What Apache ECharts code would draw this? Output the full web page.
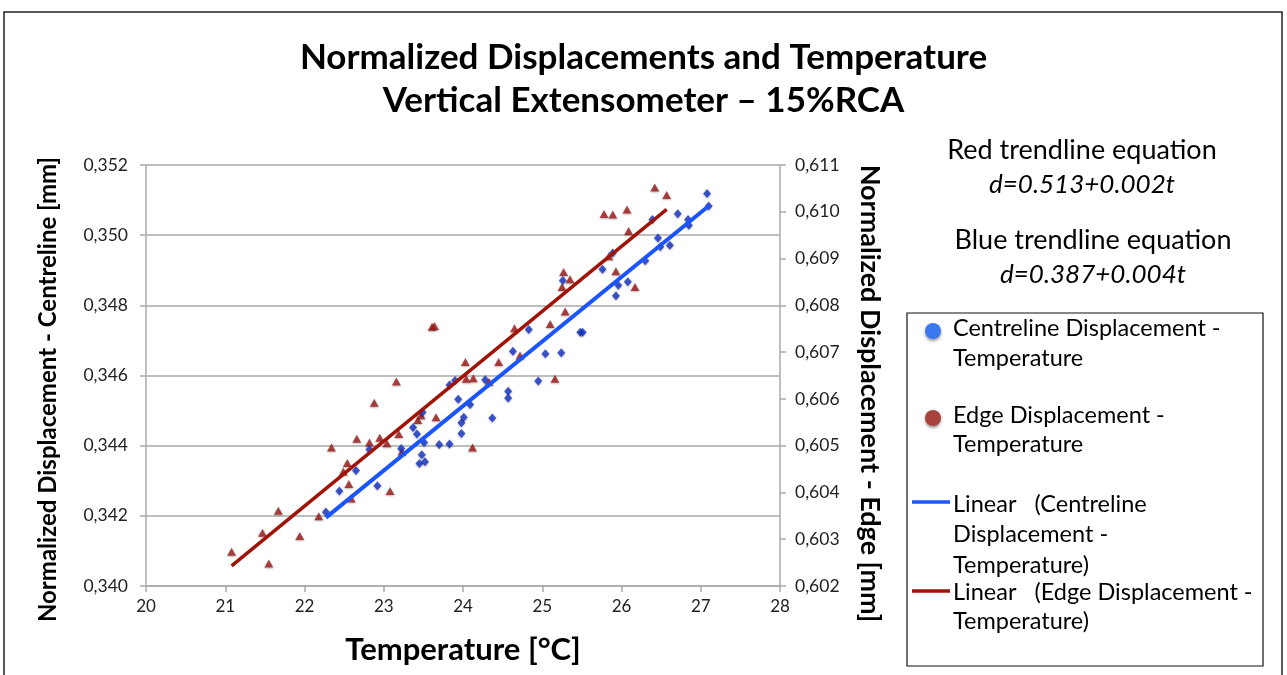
<!DOCTYPE html>
<html>
<head>
<meta charset="utf-8">
<script src="https://cdn.jsdelivr.net/npm/echarts@6/dist/echarts.min.js"></script>
<style>
html,body{margin:0;padding:0;background:#fff;}
#c{width:1287px;height:675px;}
</style>
</head>
<body>
<div id="c"></div>
<script>
// Centreline (blue) points: temperature [°C] and displacement [mm] (left axis)
var blueT = [22.27,22.44,22.65,22.82,22.92,23.22,23.37,23.42,23.45,23.48,23.52,23.51,23.49,23.70,23.83,23.83,23.90,23.94,23.98,23.98,24.01,24.09,24.28,24.37,24.57,24.57,24.63,24.83,24.95,25.04,25.24,25.26,25.48,25.51,25.76,25.89,25.93,25.96,26.08,26.30,26.39,26.46,26.49,26.61,26.71,26.84,26.85,27.08,27.10];
var blueD = [0.34211,0.34271,0.34329,0.34389,0.34286,0.34392,0.34452,0.34433,0.34349,0.34374,0.34354,0.34409,0.34495,0.34403,0.34405,0.34573,0.34586,0.34532,0.34465,0.34435,0.34481,0.34517,0.34588,0.34479,0.34555,0.34536,0.34669,0.34731,0.34584,0.34662,0.34665,0.34871,0.34723,0.34723,0.34903,0.34949,0.34827,0.34857,0.34867,0.34927,0.35045,0.34992,0.34967,0.34971,0.35061,0.35045,0.35028,0.35119,0.35083];
// Edge (red) points: temperature [°C] and displacement [mm] (right axis)
var redT = [21.08,21.47,21.55,21.67,21.94,22.18,22.34,22.49,22.54,22.56,22.59,22.66,22.82,22.88,22.95,23.04,23.08,23.16,23.19,23.23,23.43,23.47,23.61,23.64,23.66,24.03,24.04,24.13,24.12,24.33,24.45,24.65,24.72,25.10,25.16,25.25,25.27,25.29,25.35,25.78,25.89,25.84,25.93,26.07,26.09,26.17,26.42,26.57];
var redD = [0.60273,0.60314,0.60248,0.60361,0.60307,0.60349,0.60496,0.60445,0.60463,0.60418,0.60387,0.60515,0.60507,0.60592,0.60517,0.60505,0.60403,0.60637,0.60525,0.60487,0.60555,0.60565,0.60754,0.60756,0.60561,0.60679,0.60643,0.60644,0.60496,0.60636,0.60679,0.60751,0.60693,0.6076,0.60643,0.60839,0.60871,0.60787,0.60856,0.60995,0.60994,0.60905,0.60873,0.61005,0.60959,0.60839,0.61052,0.61036];
// Trendline end points
var blueLineT = [22.27, 27.10];
var blueLineD = [0.34195, 0.35083];
var redLineT = [21.08, 26.57];
var redLineD = [0.60243, 0.61005];

var titleLines = ['Normalized Displacements and Temperature', 'Vertical Extensometer \u2013 15%RCA'];
var legendNames = ['Centreline Displacement -\nTemperature', 'Edge Displacement -\nTemperature', 'Linear   (Centreline\nDisplacement -\nTemperature)', 'Linear   (Edge Displacement -\nTemperature)'];

function pairs(a, b) { return a.map(function (v, i) { return [v, b[i]]; }); }
var FONT = 'Lato, "Open Sans", sans-serif';
function comma(d) { return function (v) { return v.toFixed(d).replace('.', ','); }; }

var chart = echarts.init(document.getElementById('c'));
chart.setOption({
  animation: false,
  backgroundColor: '#fff',
  title: {
    text: titleLines.join('\n'),
    left: 'center', top: 31,
    textStyle: { fontFamily: FONT, fontSize: 35, fontWeight: 'bold', color: '#000', lineHeight: 43 }
  },
  grid: { left: 146, right: 507, top: 165, bottom: 89 },
  xAxis: {
    type: 'value', min: 20, max: 28, interval: 1,
    name: 'Temperature [\u00b0C]', nameLocation: 'middle', nameGap: 48,
    nameTextStyle: { fontFamily: FONT, fontSize: 31, fontWeight: 'bold', color: '#000' },
    axisLine: { show: true, lineStyle: { color: '#aaa', width: 1.5 } },
    axisTick: { show: true, length: 6, lineStyle: { color: '#aaa', width: 1.5 } },
    axisLabel: { fontFamily: FONT, fontSize: 17, color: '#222', margin: 12 },
    splitLine: { show: false }
  },
  yAxis: [{
    type: 'value', min: 0.340, max: 0.352, interval: 0.002,
    name: 'Normalized Displacement - Centreline [mm]', nameLocation: 'middle', nameGap: 86, nameRotate: 90,
    nameTextStyle: { fontFamily: FONT, fontSize: 24, fontWeight: 'bold', color: '#000', padding: [0, 28, 0, 0] },
    axisLine: { show: true, lineStyle: { color: '#aaa', width: 1.5 } },
    axisTick: { show: true, length: 6, lineStyle: { color: '#aaa', width: 1.5 } },
    axisLabel: { fontFamily: FONT, fontSize: 17.5, color: '#222', margin: 18, formatter: comma(3) },
    splitLine: { show: true, lineStyle: { color: '#a8a8a8', width: 1.5 } }
  }, {
    type: 'value', min: 0.602, max: 0.611, interval: 0.001, position: 'right',
    name: 'Normalized Displacement - Edge [mm]', nameLocation: 'middle', nameGap: 76, nameRotate: -90,
    nameTextStyle: { fontFamily: FONT, fontSize: 27, fontWeight: 'bold', color: '#000', padding: [0, 0, 0, 36] },
    axisLine: { show: true, lineStyle: { color: '#aaa', width: 1.5 } },
    axisTick: { show: true, length: 6, lineStyle: { color: '#aaa', width: 1.5 } },
    axisLabel: { fontFamily: FONT, fontSize: 17.5, color: '#222', margin: 15, formatter: comma(3) },
    splitLine: { show: false }
  }],
  series: [{
    name: legendNames[1], type: 'scatter', yAxisIndex: 1,
    data: pairs(redT, redD), symbol: 'triangle', symbolSize: [9, 8],
    itemStyle: { color: '#9c1a1a', shadowBlur: 2, shadowColor: 'rgba(0,0,0,0.35)', shadowOffsetY: 1 }
  }, {
    name: legendNames[0], type: 'scatter', yAxisIndex: 0,
    data: pairs(blueT, blueD), symbol: 'diamond', symbolSize: [8, 9],
    itemStyle: { color: '#1433c4', shadowBlur: 2, shadowColor: 'rgba(0,0,0,0.35)', shadowOffsetY: 1 }
  }, {
    name: legendNames[3], type: 'line', yAxisIndex: 1,
    data: pairs(redLineT, redLineD), showSymbol: false, symbol: 'none',
    lineStyle: { color: '#a01408', width: 3.5 }
  }, {
    name: legendNames[2], type: 'line', yAxisIndex: 0,
    data: pairs(blueLineT, blueLineD), showSymbol: false, symbol: 'none',
    lineStyle: { color: '#1a55ff', width: 4 }
  }],
  graphic: [
    { type: 'rect', shape: { x: 4, y: 12, width: 1278, height: 700 }, style: { fill: 'none', stroke: '#222', lineWidth: 1.5 }, silent: true },
    { type: 'text', x: 1082, y: 150, style: { text: 'Red trendline equation', font: '27px ' + FONT, fill: '#000', align: 'center', verticalAlign: 'middle' } },
    { type: 'text', x: 1082, y: 185, style: { text: 'd=0.513+0.002t', font: 'italic 26px ' + FONT, fill: '#000', align: 'center', verticalAlign: 'middle' } },
    { type: 'text', x: 1093, y: 240, style: { text: 'Blue trendline equation', font: '27px ' + FONT, fill: '#000', align: 'center', verticalAlign: 'middle' } },
    { type: 'text', x: 1093, y: 275, style: { text: 'd=0.387+0.004t', font: 'italic 26px ' + FONT, fill: '#000', align: 'center', verticalAlign: 'middle' } },
    { type: 'rect', shape: { x: 907, y: 313, width: 356, height: 353 }, style: { fill: '#fff', stroke: '#111', lineWidth: 1.2 } },
    { type: 'circle', shape: { cx: 933, cy: 331, r: 8 }, style: { fill: '#3a78f2', shadowBlur: 3, shadowColor: 'rgba(0,0,0,0.4)', shadowOffsetY: 2 } },
    { type: 'circle', shape: { cx: 933, cy: 418, r: 8 }, style: { fill: '#a8423c', shadowBlur: 3, shadowColor: 'rgba(0,0,0,0.4)', shadowOffsetY: 2 } },
    { type: 'line', shape: { x1: 912, y1: 502, x2: 950, y2: 502 }, style: { stroke: '#1a55ff', lineWidth: 3.5 } },
    { type: 'line', shape: { x1: 912, y1: 591, x2: 950, y2: 591 }, style: { stroke: '#a01408', lineWidth: 3.5 } },
    { type: 'text', x: 953, y: 313, style: { text: legendNames[0], font: '23.5px ' + FONT, lineHeight: 30, fill: '#000' } },
    { type: 'text', x: 953, y: 401, style: { text: legendNames[1], font: '23.5px ' + FONT, lineHeight: 29, fill: '#000' } },
    { type: 'text', x: 953, y: 489, style: { text: legendNames[2], font: '23.5px ' + FONT, lineHeight: 30.5, fill: '#000' } },
    { type: 'text', x: 953, y: 578, style: { text: legendNames[3], font: '23.5px ' + FONT, lineHeight: 29, fill: '#000' } }
  ]
});
</script>
</body>
</html>
